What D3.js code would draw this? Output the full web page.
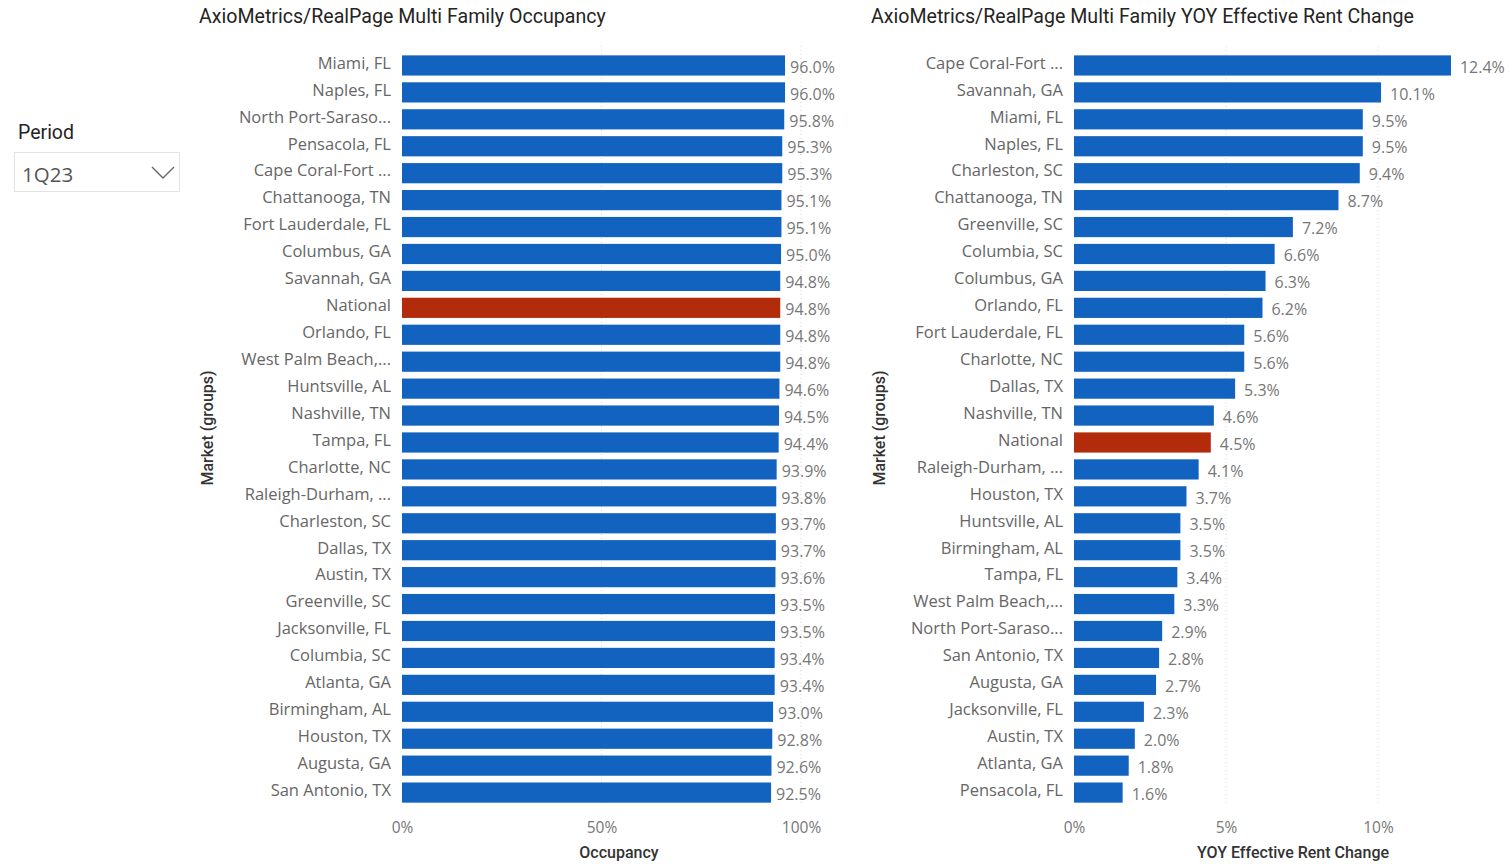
<!DOCTYPE html>
<html>
<head>
<meta charset="utf-8">
<script src="https://cdn.jsdelivr.net/npm/d3@7"></script>
<style>
  html, body { margin: 0; padding: 0; background: #ffffff; }
  svg { display: block; }
</style>
</head>
<body>
<script>
// Occupancy by market, 1Q23
const occMarkets = ["Miami, FL", "Naples, FL", "North Port-Saraso...", "Pensacola, FL", "Cape Coral-Fort ...",
  "Chattanooga, TN", "Fort Lauderdale, FL", "Columbus, GA", "Savannah, GA", "National", "Orlando, FL",
  "West Palm Beach,...", "Huntsville, AL", "Nashville, TN", "Tampa, FL", "Charlotte, NC", "Raleigh-Durham, ...",
  "Charleston, SC", "Dallas, TX", "Austin, TX", "Greenville, SC", "Jacksonville, FL", "Columbia, SC",
  "Atlanta, GA", "Birmingham, AL", "Houston, TX", "Augusta, GA", "San Antonio, TX"];
const occValues = [0.960, 0.960, 0.958, 0.953, 0.953, 0.951, 0.951, 0.950, 0.948, 0.948, 0.948,
  0.948, 0.946, 0.945, 0.944, 0.939, 0.938, 0.937, 0.937, 0.936, 0.935, 0.935, 0.934,
  0.934, 0.930, 0.928, 0.926, 0.925];
const occTicks = [0, 0.5, 1.0];

// Year-over-year effective rent change by market, 1Q23
const rentMarkets = ["Cape Coral-Fort ...", "Savannah, GA", "Miami, FL", "Naples, FL", "Charleston, SC",
  "Chattanooga, TN", "Greenville, SC", "Columbia, SC", "Columbus, GA", "Orlando, FL", "Fort Lauderdale, FL",
  "Charlotte, NC", "Dallas, TX", "Nashville, TN", "National", "Raleigh-Durham, ...", "Houston, TX",
  "Huntsville, AL", "Birmingham, AL", "Tampa, FL", "West Palm Beach,...", "North Port-Saraso...",
  "San Antonio, TX", "Augusta, GA", "Jacksonville, FL", "Austin, TX", "Atlanta, GA", "Pensacola, FL"];
const rentValues = [0.124, 0.101, 0.095, 0.095, 0.094, 0.087, 0.072, 0.066, 0.063, 0.062, 0.056,
  0.056, 0.053, 0.046, 0.045, 0.041, 0.037, 0.035, 0.035, 0.034, 0.033, 0.029,
  0.028, 0.027, 0.023, 0.020, 0.018, 0.016];
const rentTicks = [0, 0.05, 0.10];

const highlight = "National";
const BLUE = "#1262BF";
const RED = "#B22C0C";
const LABEL_FONT = "'Open Sans', 'Noto Sans', sans-serif";
const TITLE_FONT = "Roboto, 'Noto Sans', sans-serif";

const W = 1511, H = 864;
const svg = d3.select("body").append("svg").attr("width", W).attr("height", H);

// Period slicer
const slicer = svg.append("g");
slicer.append("text").attr("x", 18).attr("y", 139)
  .attr("font-family", TITLE_FONT).attr("font-size", 19.5).attr("fill", "#252423").text("Period");
slicer.append("rect").attr("x", 14.5).attr("y", 152.5).attr("width", 165).attr("height", 39)
  .attr("fill", "#fff").attr("stroke", "#e3e3e3");
slicer.append("text").attr("x", 22).attr("y", 182)
  .attr("font-family", LABEL_FONT).attr("font-size", 20.5).attr("fill", "#555").text("1Q23");
slicer.append("path").attr("d", "M152,167 L163,178 L174,167")
  .attr("fill", "none").attr("stroke", "#666").attr("stroke-width", 1.4);

function barChart(opts) {
  const g = svg.append("g");
  const x = d3.scaleLinear().domain(opts.domain).range(opts.range);
  const y = d3.scaleBand().domain(opts.markets).range([52, 52 + 26.93 * opts.markets.length]).paddingInner(0.25).paddingOuter(0.125);

  // title
  g.append("text").attr("x", opts.titleX).attr("y", 23)
    .attr("font-family", TITLE_FONT).attr("font-size", 19.6).attr("fill", "#252423")
    .text(opts.title);

  // dotted gridlines
  g.append("g").selectAll("line").data(opts.ticks.filter(t => t > 0)).join("line")
    .attr("x1", d => x(d)).attr("x2", d => x(d))
    .attr("y1", 46).attr("y2", 806)
    .attr("stroke", "#d6d6d6").attr("stroke-width", 1).attr("stroke-dasharray", "1,3");

  // x axis
  const xAxis = d3.axisBottom(x).tickValues(opts.ticks).tickFormat(d3.format(".0%")).tickSize(0).tickPadding(0);
  const ax = g.append("g").attr("transform", "translate(0,833)").call(xAxis);
  ax.select(".domain").remove();
  ax.selectAll("text").attr("font-family", LABEL_FONT).attr("font-size", 15.5).attr("fill", "#777").attr("dy", "0");

  // x axis title
  g.append("text").attr("x", opts.axisTitleX).attr("y", 858).attr("text-anchor", "middle")
    .attr("font-family", TITLE_FONT).attr("font-size", 16).attr("font-weight", 500).attr("fill", "#333")
    .text(opts.axisTitle);

  // y axis title
  g.append("text").attr("transform", `translate(${opts.yTitleX},428) rotate(-90)`)
    .attr("text-anchor", "middle").attr("font-family", TITLE_FONT).attr("font-size", 16)
    .attr("font-weight", 500).attr("fill", "#333").text("Market (groups)");

  // y axis category labels
  const yAxis = d3.axisLeft(y).tickSize(0).tickPadding(0);
  const ay = g.append("g").attr("transform", `translate(${opts.range[0] - 11},0)`).call(yAxis);
  ay.select(".domain").remove();
  ay.selectAll("text").attr("font-family", LABEL_FONT).attr("font-size", 16.5).attr("fill", "#666").attr("dy", "0.2em");

  const rows = opts.markets.map((m, i) => ({ m, v: opts.values[i] }));

  // bars
  g.append("g").selectAll("rect").data(rows).join("rect")
    .attr("x", x(0)).attr("y", d => y(d.m))
    .attr("width", d => x(d.v) - x(0)).attr("height", y.bandwidth())
    .attr("fill", d => d.m === highlight ? RED : BLUE);

  // data labels
  g.append("g").selectAll("text").data(rows).join("text")
    .attr("x", d => x(d.v) + opts.labelGap).attr("y", d => y(d.m) + y.bandwidth() / 2)
    .attr("dy", "0.45em")
    .attr("font-family", LABEL_FONT).attr("font-size", 16).attr("fill", "#777")
    .text(d => d3.format(".1%")(d.v));
}

barChart({
  title: "AxioMetrics/RealPage Multi Family Occupancy", titleX: 199,
  markets: occMarkets, values: occValues, ticks: occTicks,
  domain: [0, 1], range: [402, 801], labelGap: 5,
  axisTitle: "Occupancy", axisTitleX: 619, yTitleX: 213
});

barChart({
  title: "AxioMetrics/RealPage Multi Family YOY Effective Rent Change", titleX: 871,
  markets: rentMarkets, values: rentValues, ticks: rentTicks,
  domain: [0, 0.10], range: [1074, 1378], labelGap: 9,
  axisTitle: "YOY Effective Rent Change", axisTitleX: 1293, yTitleX: 885
});
</script>
</body>
</html>
